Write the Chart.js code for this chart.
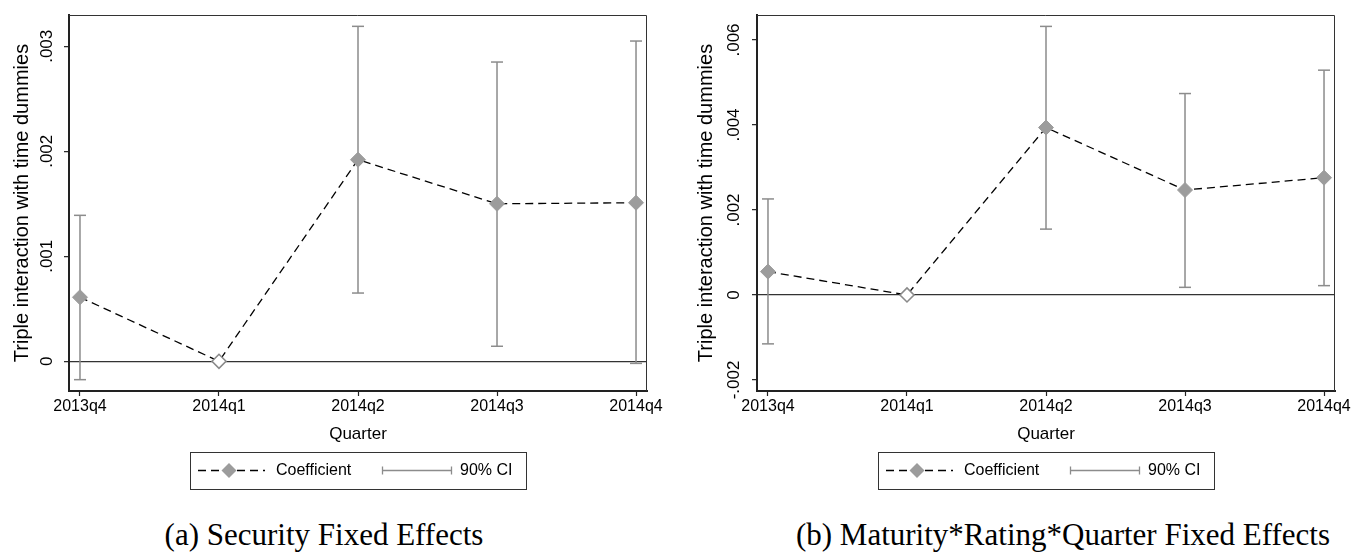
<!DOCTYPE html>
<html>
<head>
<meta charset="utf-8">
<script src="https://cdn.jsdelivr.net/npm/chart.js@4.4.1/dist/chart.umd.min.js"></script>
<style>
  body { margin:0; width:1354px; height:557px; overflow:hidden; background:#fff; position:relative; }
  .panel { position:absolute; top:0; width:677px; height:500px; }
  .cap { position:absolute; top:519px; width:700px; text-align:center; white-space:nowrap;
         font-family:"Liberation Serif","Times New Roman",serif; font-size:31px; line-height:1; color:#000; }
</style>
</head>
<body>
<div class="panel" style="left:0"><canvas id="chartA" width="677" height="500"></canvas></div>
<div class="panel" style="left:677px"><canvas id="chartB" width="677" height="500"></canvas></div>
<div class="cap" style="left:-26px">(a) Security Fixed Effects</div>
<div class="cap" style="left:713px">(b) Maturity*Rating*Quarter Fixed Effects</div>
<script>
// --- data ---
const quarters = ['2013q4', '2014q1', '2014q2', '2014q3', '2014q4'];
const baseQuarter = 1; // 2014q1 is the omitted period (hollow marker, no CI)

const coefA   = [0.00061, 0, 0.00192, 0.00150, 0.00151];
const ciLowA  = [-0.000175, null, 0.00065, 0.000143, -0.00002];
const ciHighA = [0.00139, null, 0.00319, 0.00285, 0.00305];

const coefB   = [0.00055, 0, 0.00394, 0.00247, 0.00276];
const ciLowB  = [-0.00115, null, 0.00155, 0.00018, 0.00022];
const ciHighB = [0.00226, null, 0.00632, 0.00474, 0.00529];

const yTicksA = [0, 0.001, 0.002, 0.003];
const yTicksB = [-0.002, 0, 0.002, 0.004, 0.006];
const legendLabels = ['Coefficient', '90% CI'];

// axis ranges
const xRange  = [-0.079, 4.079];
const yRangeA = [-0.000283, 0.003298];
const yRangeB = [-0.002259, 0.006588];

const sans = '"Liberation Sans", Arial, sans-serif';
const axisCol = '#222';
const ciCol = '#8c8c8c';
const markCol = '#9c9c9c';

Chart.defaults.font.family = sans;
Chart.defaults.color = '#000';

// Stata style labels: .001 instead of 0.001
function stataLabel(v){
	if(v === 0) return '0';
	return (v < 0 ? '-' : '') + Math.abs(v).toFixed(3).replace(/^0/, '');
}

// box around plot region + the framed legend under the axis title
const stataFrame = {
	id: 'stataFrame',
	afterDraw(chart){
		const ctx = chart.ctx, a = chart.chartArea;
		ctx.save();
		// top and right edges of the plot box
		ctx.strokeStyle = '#333';
		ctx.lineWidth = 1;
		ctx.beginPath();
		ctx.moveTo(a.left, a.top + 0.5);
		ctx.lineTo(a.right - 0.5, a.top + 0.5);
		ctx.lineTo(a.right - 0.5, a.bottom);
		ctx.stroke();

		// legend
		const cx = Math.round((a.left + a.right) / 2);
		const top = a.bottom + 61, w = 336, h = 37;
		const my = top + h / 2;
		ctx.fillStyle = '#fff';
		ctx.fillRect(cx - w / 2, top, w, h);
		ctx.strokeStyle = '#333';
		ctx.strokeRect(cx - w / 2 + 0.5, top + 0.5, w, h);

		// dashed line with diamond
		ctx.strokeStyle = '#000';
		ctx.lineWidth = 1.3;
		ctx.setLineDash([8, 5]);
		ctx.beginPath();
		ctx.moveTo(cx - 160, my);
		ctx.lineTo(cx - 93, my);
		ctx.stroke();
		ctx.setLineDash([]);
		const dx = cx - 129, r = 7.5;
		ctx.fillStyle = markCol;
		ctx.beginPath();
		ctx.moveTo(dx - r, my); ctx.lineTo(dx, my - r); ctx.lineTo(dx + r, my); ctx.lineTo(dx, my + r);
		ctx.closePath();
		ctx.fill();

		// capped range symbol
		ctx.strokeStyle = ciCol;
		ctx.lineWidth = 1.3;
		ctx.beginPath();
		ctx.moveTo(cx + 24, my); ctx.lineTo(cx + 94, my);
		ctx.moveTo(cx + 24.5, my - 4); ctx.lineTo(cx + 24.5, my + 4);
		ctx.moveTo(cx + 93.5, my - 4); ctx.lineTo(cx + 93.5, my + 4);
		ctx.stroke();

		ctx.fillStyle = '#000';
		ctx.font = '16px ' + sans;
		ctx.textBaseline = 'middle';
		ctx.textAlign = 'left';
		ctx.fillText(legendLabels[0], cx - 82, my + 0.5);
		ctx.fillText(legendLabels[1], cx + 102, my + 0.5);
		ctx.restore();
	}
};

function ciPoints(lo, hi){
	const pts = [];
	lo.forEach(function(v, i){
		if(v === null) return;
		pts.push({x: i, y: v}, {x: i, y: hi[i]}, {x: i, y: null});
	});
	return pts;
}

function makeChart(id, coef, lo, hi, yTicks, yRange, lay){
	return new Chart(document.getElementById(id), {
		type: 'line',
		data: {
			datasets: [{
				label: legendLabels[0],
				data: coef.map(function(v, i){ return {x: i, y: v}; }),
				borderColor: '#000',
				borderWidth: 1.3,
				borderDash: [8, 5],
				pointStyle: 'rectRot',
				pointRadius: function(c){ return c.dataIndex === baseQuarter ? 7 : 7.5; },
				pointBackgroundColor: function(c){ return c.dataIndex === baseQuarter ? '#fff' : markCol; },
				pointBorderColor: function(c){ return c.dataIndex === baseQuarter ? '#8a8a8a' : markCol; },
				pointBorderWidth: function(c){ return c.dataIndex === baseQuarter ? 1.6 : 1; }
			},{
				label: legendLabels[1],
				data: ciPoints(lo, hi),
				borderColor: ciCol,
				borderWidth: 1.5,
				spanGaps: false,
				pointStyle: 'line',
				pointRadius: 6,
				pointBorderColor: ciCol,
				pointBorderWidth: 1.5
			}]
		},
		options: {
			responsive: false,
			devicePixelRatio: 1,
			animation: false,
			events: [],
			layout: {padding: {top: 15, left: 0, right: lay.right, bottom: 49}},
			plugins: {legend: {display: false}, tooltip: {enabled: false}},
			scales: {
				x: {
					type: 'linear',
					min: xRange[0], max: xRange[1],
					afterBuildTicks: function(s){ s.ticks = quarters.map(function(q, i){ return {value: i}; }); },
					afterFit: function(s){ s.height = 60; },
					ticks: {
						callback: function(v){ return quarters[v]; },
						font: {size: 16}, color: '#000', padding: 1,
						maxRotation: 0, autoSkip: false
					},
					grid: {drawOnChartArea: false, tickLength: 5, tickColor: axisCol, tickWidth: 1.2},
					border: {color: axisCol, width: 2},
					title: {display: true, text: 'Quarter', font: {size: 17}, color: '#000', padding: {top: 0, bottom: 6.8}}
				},
				y: {
					min: yRange[0], max: yRange[1],
					afterBuildTicks: function(s){ s.ticks = yTicks.map(function(v){ return {value: v}; }); },
					afterFit: function(s){ s.width = lay.yWidth; },
					ticks: {
						callback: stataLabel,
						font: {size: 17}, color: '#000',
						minRotation: 90, maxRotation: 90,
						crossAlign: 'center', padding: lay.tickPad
					},
					grid: {
						color: function(c){ return c.tick && c.tick.value === 0 ? '#333' : 'rgba(0,0,0,0)'; },
						lineWidth: 1.3,
						tickLength: 5, tickColor: axisCol, tickWidth: 1.2
					},
					border: {color: axisCol, width: 2},
					title: {display: true, text: 'Triple interaction with time dummies', font: {size: 20}, color: '#000', padding: {top: lay.titlePad, bottom: 0}}
				}
			}
		},
		plugins: [stataFrame]
	});
}

makeChart('chartA', coefA, ciLowA, ciHighA, yTicksA, yRangeA, {right: 30, yWidth: 69, tickPad: 0, titlePad: 10.3});
makeChart('chartB', coefB, ciLowB, ciHighB, yTicksB, yRangeB, {right: 19, yWidth: 80, tickPad: -2, titlePad: 17.7});
</script>
</body>
</html>
